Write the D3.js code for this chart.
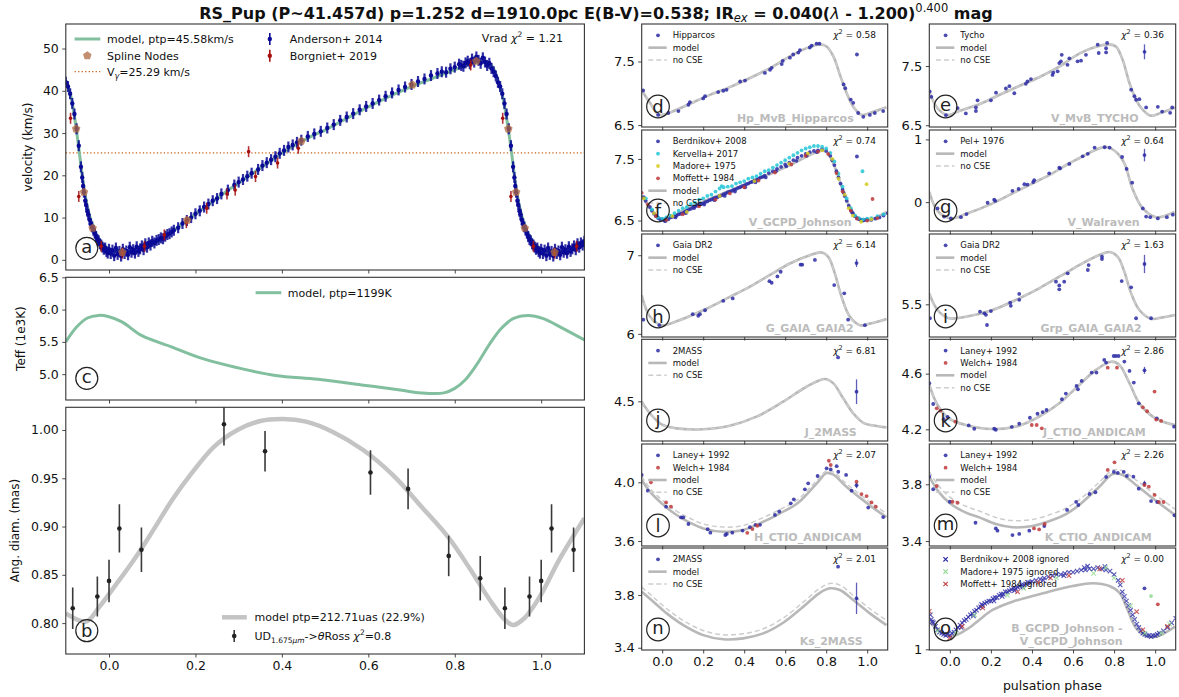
<!DOCTYPE html>
<html><head><meta charset="utf-8">
<script src="https://cdn.jsdelivr.net/npm/d3@7"></script>
<style>body{margin:0;background:#fff} svg text{font-family:"DejaVu Sans",sans-serif}</style>
</head><body><script>
// ---------------- DATA ----------------
const phaseTicks = [0, 0.2, 0.4, 0.6, 0.8, 1.0];
const vGamma = 25.29;
const velModel = [[-0.10,42.5],[-0.09,39.5],[-0.08,34.0],[-0.07,26.5],[-0.06,18.5],[-0.05,12.5],[-0.04,8.8],[-0.03,6.2],[-0.02,4.5],[-0.01,3.3],[0.00,2.5],[0.02,1.9],[0.04,1.8],[0.06,2.1],[0.08,2.7],[0.10,3.6],[0.12,4.8],[0.14,6.2],[0.16,7.7],[0.18,9.3],[0.20,10.8],[0.22,12.3],[0.24,13.8],[0.26,15.3],[0.28,16.8],[0.30,18.2],[0.32,19.6],[0.34,21.0],[0.36,22.4],[0.38,23.8],[0.40,25.2],[0.42,26.5],[0.44,27.7],[0.46,28.8],[0.48,29.8],[0.50,30.7],[0.52,31.8],[0.54,32.9],[0.56,34.0],[0.58,35.1],[0.60,36.2],[0.62,37.2],[0.64,38.2],[0.66,39.2],[0.68,40.1],[0.70,41.0],[0.72,41.8],[0.74,42.6],[0.76,43.4],[0.78,44.2],[0.80,45.0],[0.82,45.8],[0.84,46.5],[0.86,47.0],[0.87,47.0],[0.88,46.5],[0.89,45.2],[0.90,42.5],[0.91,39.0],[0.92,33.5],[0.93,26.5],[0.94,18.5],[0.95,12.5],[0.96,8.8],[0.97,6.2],[0.98,4.5],[0.99,3.3],[1.00,2.5],[1.02,1.9],[1.04,1.8],[1.06,2.1],[1.08,2.7],[1.10,3.6]];
const anderson = [[0.000,2.5],[0.004,1.5],[0.008,2.3],[0.012,1.0],[0.016,2.8],[0.020,1.3],[0.024,2.0],[0.028,0.9],[0.032,2.5],[0.036,1.5],[0.040,2.1],[0.044,1.2],[0.048,3.0],[0.052,1.8],[0.056,2.4],[0.060,1.6],[0.064,3.1],[0.068,2.0],[0.072,2.6],[0.076,3.3],[0.080,2.4],[0.084,3.8],[0.088,3.0],[0.092,4.0],[0.096,3.5],[0.100,4.4],[0.105,4.0],[0.110,4.6],[0.115,4.8],[0.120,5.2],[0.125,5.0],[0.130,5.6],[0.135,6.0],[0.140,6.2],[0.145,6.6],[0.150,7.0],[0.160,7.6],[0.170,8.6],[0.180,9.3],[0.190,10.0],[0.200,10.9],[0.210,11.6],[0.220,12.5],[0.230,13.2],[0.240,14.0],[0.250,14.5],[0.260,15.6],[0.275,16.5],[0.290,17.7],[0.300,18.4],[0.310,19.0],[0.320,19.8],[0.330,20.5],[0.345,21.4],[0.355,22.3],[0.365,23.0],[0.375,23.7],[0.385,24.4],[0.395,25.2],[0.405,25.9],[0.415,26.7],[0.425,27.2],[0.435,27.8],[0.445,28.3],[0.460,29.2],[0.475,29.8],[0.490,30.4],[0.505,31.2],[0.520,32.0],[0.535,33.0],[0.550,33.8],[0.565,34.6],[0.580,35.5],[0.595,36.3],[0.610,37.0],[0.625,37.8],[0.640,38.7],[0.655,39.5],[0.670,40.2],[0.685,40.9],[0.700,41.5],[0.715,42.2],[0.730,42.8],[0.745,43.6],[0.760,44.1],[0.770,44.5],[0.780,44.4],[0.790,45.2],[0.800,45.6],[0.810,46.3],[0.815,46.0],[0.820,45.8],[0.825,46.6],[0.830,47.0],[0.835,46.4],[0.840,47.5],[0.845,46.8],[0.850,48.0],[0.855,47.2],[0.860,46.5],[0.865,47.8],[0.870,46.8],[0.875,46.0],[0.880,46.5],[0.885,45.3],[0.890,44.5],[0.895,43.5],[0.900,42.0],[0.905,41.0],[0.910,39.3],[0.915,37.0],[0.920,34.5],[0.925,31.0],[0.930,27.0],[0.935,22.0],[0.938,19.5],[0.940,17.5],[0.942,16.0],[0.945,14.0],[0.947,13.0],[0.950,11.5],[0.952,10.8],[0.955,9.5],[0.958,8.5],[0.961,7.8],[0.964,7.0],[0.967,6.3],[0.970,5.5],[0.973,4.8],[0.976,4.5],[0.979,3.8],[0.982,3.5],[0.985,3.0],[0.988,2.5],[0.991,2.8],[0.994,2.0],[0.997,1.6]];
const borgniet = [[0.031,1.6],[0.082,3.2],[0.128,5.9],[0.179,8.8],[0.226,12.2],[0.273,15.6],[0.292,16.5],[0.323,25.6],[0.339,19.7],[0.390,22.9],[0.438,26.4],[0.837,46.1],[0.911,33.5],[0.930,15.0],[0.982,3.2]];
const splineNodes = [[0.031,1.8],[0.181,9.4],[0.445,28.1],[0.702,41.4],[0.850,47.0],[0.924,31.0],[0.942,16.0],[0.962,7.5]];

const teffModel = [[-0.10,5.50],[-0.075,5.73],[-0.05,5.87],[-0.025,5.91],[0.0,5.89],[0.03,5.81],[0.075,5.60],[0.146,5.42],[0.217,5.24],[0.297,5.10],[0.385,4.98],[0.483,4.92],[0.589,4.83],[0.678,4.75],[0.722,4.71],[0.775,4.71],[0.80,4.78],[0.824,4.91],[0.85,5.14],[0.881,5.47],[0.908,5.71],[0.935,5.86],[0.97,5.91],[1.005,5.86],[1.05,5.71],[1.10,5.53]];

const diamModel = [[-0.10,0.810],[-0.053,0.8016],[-0.022,0.817],[0.013,0.838],[0.057,0.865],[0.102,0.896],[0.146,0.9275],[0.19,0.9545],[0.244,0.983],[0.297,1.0],[0.35,1.0093],[0.403,1.0114],[0.456,1.0086],[0.518,0.998],[0.589,0.979],[0.66,0.952],[0.722,0.921],[0.784,0.8895],[0.837,0.855],[0.881,0.824],[0.917,0.803],[0.935,0.798],[0.961,0.805],[0.997,0.8275],[1.041,0.865],[1.10,0.9086]];
const diamData = [[0.000,0.8437,0.022],[0.024,0.898,0.025],[0.075,0.876,0.023],[0.266,1.006,0.022],[0.361,0.978,0.021],[0.605,0.956,0.023],[0.692,0.939,0.021],[0.786,0.8696,0.021],[0.859,0.8465,0.023],[0.916,0.8154,0.0216],[0.973,0.8275,0.0207]];

// right-hand photometric panels
const modelD = [[-0.10,7.05],[-0.06,6.85],[-0.02,6.67],[0.00,6.66],[0.04,6.70],[0.135,6.835],[0.233,6.976],[0.33,7.097],[0.428,7.24],[0.526,7.396],[0.623,7.58],[0.704,7.71],[0.77,7.77],[0.802,7.736],[0.835,7.58],[0.867,7.29],[0.90,7.00],[0.932,6.79],[0.973,6.66],[1.013,6.69],[1.094,6.78]];
const hipparcos = [[-0.093,7.044],[-0.02,6.66],[0.03,6.69],[0.079,6.72],[0.128,6.82],[0.135,6.86],[0.20,6.92],[0.209,6.955],[0.273,7.02],[0.298,7.04],[0.314,7.055],[0.38,7.186],[0.404,7.20],[0.501,7.32],[0.526,7.37],[0.534,7.40],[0.583,7.46],[0.588,7.51],[0.623,7.56],[0.639,7.61],[0.664,7.64],[0.672,7.68],[0.72,7.72],[0.729,7.75],[0.753,7.78],[0.767,7.78],[0.885,7.14],[0.893,7.08],[0.92,6.90],[0.932,6.85],[0.956,6.69],[0.981,6.63],[1.013,6.66],[1.037,6.69],[1.078,6.72],[0.95,7.61]];

const modelE = [[-0.10,7.067],[-0.06,6.787],[-0.011,6.674],[0.045,6.74],[0.143,6.854],[0.24,7.01],[0.338,7.163],[0.435,7.31],[0.533,7.49],[0.63,7.71],[0.712,7.826],[0.777,7.866],[0.81,7.826],[0.842,7.60],[0.875,7.21],[0.907,6.93],[0.94,6.76],[0.98,6.66],[1.021,6.70],[1.097,6.80]];
const tycho = [[-0.098,7.07],[-0.09,6.98],[-0.019,6.67],[0.038,6.79],[0.078,6.70],[0.127,6.80],[0.127,6.74],[0.135,6.92],[0.20,6.92],[0.225,7.05],[0.273,7.12],[0.29,7.16],[0.314,7.04],[0.37,7.20],[0.378,7.24],[0.395,7.28],[0.50,7.35],[0.504,7.39],[0.525,7.41],[0.533,7.55],[0.541,7.58],[0.545,7.69],[0.573,7.52],[0.582,7.63],[0.622,7.58],[0.639,7.59],[0.663,7.69],[0.72,7.86],[0.725,7.72],[0.761,7.80],[0.761,7.73],[0.766,7.89],[0.883,7.10],[0.899,6.99],[0.907,6.93],[0.923,6.94],[0.956,6.80],[1.013,6.81],[1.034,6.73],[1.083,6.80],[1.073,6.71],[0.948,7.74,0.126]];

const modelF = [[-0.10,6.90],[-0.06,6.70],[-0.03,6.58],[0.0,6.52],[0.05,6.57],[0.135,6.72],[0.298,6.94],[0.46,7.16],[0.623,7.40],[0.70,7.53],[0.77,7.63],[0.80,7.62],[0.842,7.37],[0.867,7.13],[0.90,6.83],[0.932,6.61],[0.965,6.53],[1.013,6.51],[1.094,6.64]];
const berdV = [[-0.09,6.88],[-0.08,6.82],[-0.06,6.72],[-0.05,6.66],[-0.04,6.61],[-0.03,6.57],[-0.02,6.54],[-0.01,6.52],[0.0,6.52],[0.01,6.50],[0.02,6.53],[0.03,6.52],[0.04,6.55],[0.05,6.56],[0.06,6.57],[0.07,6.58],[0.08,6.60],[0.09,6.61],[0.10,6.62],[0.11,6.64],[0.12,6.66],[0.13,6.68],[0.14,6.69],[0.15,6.72],[0.16,6.73],[0.17,6.74],[0.18,6.76],[0.19,6.77],[0.20,6.78],[0.21,6.80],[0.22,6.81],[0.23,6.83],[0.24,6.84],[0.25,6.86],[0.26,6.87],[0.27,6.88],[0.28,6.90],[0.29,6.91],[0.30,6.93],[0.31,6.94],[0.32,6.96],[0.33,6.97],[0.34,6.98],[0.35,7.00],[0.36,7.01],[0.37,7.03],[0.38,7.04],[0.39,7.06],[0.40,7.07],[0.41,7.09],[0.42,7.10],[0.43,7.12],[0.44,7.13],[0.45,7.15],[0.46,7.16],[0.47,7.18],[0.48,7.20],[0.49,7.21],[0.50,7.23],[0.52,7.27],[0.54,7.30],[0.56,7.34],[0.58,7.37],[0.60,7.41],[0.62,7.44],[0.64,7.48],[0.66,7.52],[0.68,7.55],[0.70,7.58],[0.72,7.61],[0.74,7.63],[0.76,7.64],[0.78,7.66],[0.80,7.63],[0.82,7.55],[0.83,7.48],[0.84,7.40],[0.85,7.30],[0.86,7.20],[0.87,7.10],[0.88,7.00],[0.89,6.90],[0.90,6.82],[0.91,6.74],[0.92,6.67],[0.93,6.62],[0.94,6.57],[0.95,6.54],[0.96,6.52],[0.97,6.51],[0.98,6.50],[0.99,6.51],[1.00,6.52],[1.02,6.51],[1.04,6.53],[1.06,6.55],[1.08,6.58],[1.10,6.62],[0.155,6.70],[0.205,6.76],[0.255,6.83],[0.305,6.90],[0.355,6.97],[0.405,7.04],[0.455,7.12],[0.505,7.20],[0.555,7.30],[0.605,7.38],[0.655,7.47],[0.705,7.55],[0.755,7.61],[0.115,6.62],[0.065,6.55],[0.015,6.49],[0.925,6.64],[0.885,6.95],[0.95,7.54]];
const kervella = [[-0.08,6.86],[-0.05,6.68],[-0.02,6.55],[0.0,6.53],[0.02,6.55],[0.04,6.58],[0.06,6.62],[0.08,6.66],[0.10,6.70],[0.12,6.72],[0.14,6.77],[0.16,6.79],[0.18,6.84],[0.20,6.86],[0.22,6.90],[0.24,6.92],[0.26,6.97],[0.28,7.02],[0.29,7.06],[0.30,7.04],[0.32,7.05],[0.34,7.06],[0.36,7.10],[0.38,7.12],[0.40,7.14],[0.42,7.18],[0.44,7.20],[0.46,7.22],[0.48,7.26],[0.50,7.30],[0.52,7.32],[0.54,7.36],[0.56,7.40],[0.58,7.44],[0.60,7.48],[0.62,7.52],[0.64,7.56],[0.66,7.60],[0.68,7.64],[0.70,7.67],[0.72,7.69],[0.74,7.71],[0.76,7.71],[0.78,7.70],[0.80,7.67],[0.82,7.60],[0.84,7.46],[0.86,7.26],[0.88,7.05],[0.90,6.86],[0.92,6.70],[0.94,6.58],[0.96,6.54],[0.98,6.52],[1.00,6.53],[1.02,6.54],[1.05,6.57],[1.08,6.60],[0.977,7.30]];
const madoreV = [[-0.09,6.86],[-0.04,6.62],[0.05,6.57],[0.12,6.64],[0.28,6.90],[0.45,7.14],[0.62,7.42],[0.71,7.59],[0.78,7.64],[0.83,7.50],[0.86,7.18],[0.89,6.92],[0.91,6.70],[0.93,6.58],[0.97,6.48],[1.02,6.52],[0.997,7.09]];
const moffettV = [[-0.10,6.95],[-0.07,6.76],[-0.03,6.57],[0.02,6.51],[0.10,6.60],[0.18,6.73],[0.26,6.84],[0.33,6.94],[0.40,7.04],[0.47,7.15],[0.55,7.28],[0.63,7.41],[0.70,7.55],[0.76,7.62],[0.81,7.58],[0.85,7.27],[0.88,6.97],[0.92,6.66],[0.95,6.53],[1.00,6.50],[1.05,6.54],[1.026,6.85]];

const modelG = [[-0.10,0.165],[-0.06,-0.14],[0.005,-0.26],[0.078,-0.19],[0.208,-0.02],[0.305,0.14],[0.403,0.30],[0.50,0.46],[0.582,0.62],[0.63,0.70],[0.70,0.82],[0.761,0.88],[0.81,0.80],[0.85,0.62],[0.89,0.21],[0.94,-0.10],[1.005,-0.24],[1.094,-0.155]];
const pel = [[-0.06,-0.10],[-0.028,-0.23],[0.005,-0.26],[0.054,-0.24],[0.081,-0.19],[0.184,-0.01],[0.216,0.04],[0.221,0.02],[0.305,0.18],[0.335,0.21],[0.363,0.287],[0.378,0.28],[0.406,0.32],[0.411,0.35],[0.484,0.46],[0.537,0.537],[0.533,0.55],[0.582,0.61],[0.647,0.73],[0.672,0.77],[0.705,0.87],[0.754,0.875],[0.778,0.87],[0.839,0.72],[0.861,0.53],[0.888,0.31],[0.94,-0.10],[0.956,-0.23],[0.976,-0.24],[1.013,-0.26],[1.057,-0.24],[1.086,-0.20],[0.948,0.75,0.1]];

const modelH = [[-0.10,6.49],[-0.06,6.22],[-0.003,6.11],[0.07,6.16],[0.20,6.30],[0.33,6.47],[0.428,6.60],[0.526,6.75],[0.623,6.895],[0.72,7.0],[0.777,7.035],[0.81,6.98],[0.842,6.77],[0.875,6.47],[0.915,6.22],[0.965,6.11],[1.013,6.13],[1.094,6.19]];
const gaiaG = [[-0.092,6.18],[-0.014,6.11],[0.149,6.25],[0.176,6.23],[0.184,6.25],[0.209,6.30],[0.298,6.42],[0.344,6.45],[0.523,6.67],[0.534,6.65],[0.562,6.73],[0.578,6.79],[0.675,6.88],[0.683,6.88],[0.745,6.94],[0.839,6.62],[0.888,6.515],[0.907,6.18],[0.989,6.11],[0.948,6.90,0.05]];

const modelI = [[-0.10,5.573],[-0.06,5.462],[-0.005,5.407],[0.078,5.417],[0.208,5.462],[0.338,5.54],[0.435,5.607],[0.533,5.684],[0.63,5.762],[0.728,5.829],[0.777,5.849],[0.818,5.817],[0.85,5.717],[0.883,5.573],[0.923,5.462],[0.98,5.404],[1.037,5.413],[1.097,5.429]];
const gaiaRp = [[-0.097,5.407],[0.147,5.451],[0.168,5.44],[0.176,5.43],[0.181,5.362],[0.20,5.455],[0.294,5.511],[0.297,5.49],[0.338,5.569],[0.338,5.53],[0.517,5.651],[0.533,5.626],[0.533,5.60],[0.557,5.651],[0.574,5.707],[0.672,5.729],[0.676,5.762],[0.741,5.802],[0.741,5.818],[0.837,5.655],[0.883,5.613],[0.907,5.407],[0.98,5.407],[0.948,5.769,0.061]];

const modelJ = [[-0.10,4.497],[-0.06,4.408],[-0.003,4.323],[0.07,4.292],[0.20,4.285],[0.33,4.312],[0.46,4.382],[0.59,4.497],[0.704,4.612],[0.794,4.672],[0.835,4.638],[0.883,4.523],[0.932,4.408],[0.981,4.335],[1.046,4.31],[1.094,4.30]];
const twoMassJ = [[0.858,4.838],[0.948,4.574,0.095]];

const modelK = [[-0.10,4.519],[-0.06,4.375],[-0.005,4.279],[0.078,4.231],[0.208,4.202],[0.338,4.226],[0.435,4.291],[0.533,4.387],[0.63,4.519],[0.712,4.627],[0.785,4.686],[0.826,4.663],[0.875,4.531],[0.923,4.387],[0.988,4.291],[1.053,4.247],[1.097,4.231]];
const laneyJ = [[-0.10,4.531],[-0.081,4.382],[-0.03,4.273],[-0.011,4.29],[0.092,4.228],[0.119,4.204],[0.216,4.204],[0.224,4.197],[0.302,4.218],[0.338,4.24],[0.39,4.283],[0.427,4.312],[0.452,4.324],[0.471,4.339],[0.546,4.416],[0.565,4.457],[0.617,4.512],[0.624,4.488],[0.642,4.548],[0.691,4.608],[0.714,4.608],[0.752,4.699],[0.761,4.68],[0.798,4.727],[0.809,4.727],[0.822,4.727],[0.85,4.687],[0.875,4.62],[0.896,4.536],[0.92,4.387],[1.008,4.279],[1.092,4.219],[0.948,4.624,0.025]];
const welchJ = [[-0.064,4.351],[-0.046,4.334],[0.027,4.255],[0.399,4.231],[0.423,4.231],[0.448,4.207],[0.769,4.643],[0.814,4.643],[0.94,4.358],[0.961,4.33],[0.997,4.471],[1.005,4.27],[1.029,4.26]];

const modelL = [[-0.10,4.016],[-0.06,3.936],[-0.003,3.857],[0.07,3.777],[0.135,3.725],[0.20,3.686],[0.298,3.663],[0.395,3.675],[0.493,3.731],[0.575,3.789],[0.66,3.857],[0.754,3.993],[0.802,4.063],[0.835,4.052],[0.90,3.968],[0.981,3.877],[1.046,3.809],[1.094,3.763]];
const noCseL = [[-0.10,4.04],[-0.06,3.96],[-0.003,3.882],[0.07,3.804],[0.135,3.755],[0.20,3.716],[0.298,3.695],[0.395,3.706],[0.493,3.76],[0.575,3.815],[0.66,3.88],[0.754,4.012],[0.802,4.08],[0.835,4.07],[0.90,3.99],[0.981,3.90],[1.046,3.833],[1.094,3.787]];
const laneyH = [[-0.10,4.05],[-0.07,3.943],[0.019,3.834],[0.092,3.761],[0.103,3.761],[0.128,3.716],[0.222,3.68],[0.235,3.657],[0.308,3.641],[0.315,3.648],[0.342,3.657],[0.392,3.671],[0.428,3.694],[0.455,3.71],[0.477,3.71],[0.55,3.778],[0.571,3.801],[0.627,3.857],[0.642,3.884],[0.696,3.952],[0.712,3.993],[0.758,4.043],[0.802,4.095],[0.822,4.088],[0.851,4.11],[0.859,4.072],[0.897,4.05],[0.924,3.943],[1.005,3.828],[1.078,3.763],[0.948,3.98,0.02]];
const welchH = [[-0.055,4.0],[0.019,3.863],[0.043,3.834],[0.415,3.656],[0.44,3.681],[0.464,3.704],[0.813,4.147],[0.822,4.118],[0.948,4.004],[0.972,3.92],[0.997,3.906],[1.021,3.863],[1.042,3.834]];

const modelM = [[-0.10,3.854],[-0.055,3.748],[0.0,3.666],[0.078,3.60],[0.143,3.567],[0.224,3.52],[0.305,3.497],[0.403,3.506],[0.50,3.548],[0.566,3.59],[0.63,3.654],[0.728,3.783],[0.793,3.873],[0.842,3.866],[0.907,3.795],[0.988,3.701],[1.097,3.583]];
const noCseM = [[-0.10,3.89],[-0.055,3.79],[0.0,3.71],[0.078,3.645],[0.143,3.612],[0.224,3.566],[0.305,3.544],[0.403,3.552],[0.50,3.592],[0.566,3.632],[0.63,3.69],[0.728,3.815],[0.793,3.90],[0.842,3.895],[0.907,3.83],[0.988,3.74],[1.097,3.625]];
const laneyK = [[-0.10,3.854],[-0.081,3.765],[0.0,3.677],[0.125,3.529],[0.224,3.489],[0.232,3.473],[0.305,3.442],[0.338,3.45],[0.387,3.473],[0.46,3.506],[0.571,3.619],[0.615,3.676],[0.626,3.654],[0.68,3.732],[0.709,3.744],[0.761,3.852],[0.799,3.887],[0.818,3.880],[0.847,3.887],[0.862,3.859],[0.894,3.854],[0.92,3.769],[0.98,3.682],[1.01,3.675],[1.094,3.581],[0.948,3.805,0.02]];
const welchK = [[-0.064,3.788],[0.013,3.677],[0.037,3.670],[0.41,3.489],[0.435,3.482],[0.462,3.52],[0.769,3.901],[0.802,3.955],[0.948,3.795],[0.969,3.783],[0.997,3.725],[1.018,3.675],[1.041,3.675]];

const modelN = [[-0.10,3.825],[-0.043,3.749],[0.022,3.661],[0.103,3.572],[0.20,3.496],[0.298,3.464],[0.395,3.471],[0.493,3.509],[0.59,3.59],[0.688,3.711],[0.769,3.817],[0.818,3.851],[0.867,3.838],[0.932,3.762],[1.013,3.661],[1.094,3.572]];
const noCseN = [[-0.10,3.860],[-0.043,3.784],[0.022,3.696],[0.103,3.607],[0.20,3.531],[0.298,3.499],[0.395,3.506],[0.493,3.544],[0.59,3.625],[0.688,3.746],[0.769,3.852],[0.818,3.888],[0.867,3.875],[0.932,3.797],[1.013,3.696],[1.094,3.607]];
const twoMassK = [[0.858,4.015],[0.948,3.775,0.119]];

const modelO = [[-0.10,1.24],[-0.075,1.197],[0.005,1.116],[0.078,1.168],[0.143,1.255],[0.208,1.342],[0.305,1.414],[0.403,1.463],[0.50,1.51],[0.598,1.55],[0.695,1.574],[0.777,1.55],[0.826,1.492],[0.866,1.342],[0.907,1.183],[0.956,1.116],[1.005,1.11],[1.097,1.197]];
const berdBV = [[-0.095,1.30],[-0.09,1.26],[-0.085,1.24],[-0.08,1.23],[-0.07,1.20],[-0.06,1.17],[-0.05,1.15],[-0.04,1.14],[-0.03,1.13],[-0.02,1.12],[-0.01,1.13],[0.0,1.12],[0.01,1.14],[0.02,1.15],[0.03,1.17],[0.04,1.19],[0.05,1.21],[0.06,1.23],[0.07,1.25],[0.08,1.26],[0.09,1.28],[0.10,1.30],[0.11,1.31],[0.12,1.33],[0.13,1.34],[0.14,1.36],[0.15,1.37],[0.16,1.38],[0.17,1.40],[0.18,1.41],[0.19,1.42],[0.20,1.42],[0.21,1.44],[0.22,1.45],[0.23,1.45],[0.24,1.47],[0.25,1.48],[0.26,1.48],[0.27,1.50],[0.28,1.50],[0.29,1.51],[0.30,1.52],[0.31,1.53],[0.32,1.53],[0.33,1.54],[0.34,1.55],[0.35,1.56],[0.36,1.56],[0.37,1.57],[0.38,1.58],[0.39,1.58],[0.40,1.59],[0.42,1.60],[0.44,1.61],[0.46,1.62],[0.48,1.63],[0.50,1.64],[0.52,1.65],[0.54,1.65],[0.56,1.66],[0.58,1.67],[0.60,1.67],[0.62,1.68],[0.64,1.69],[0.66,1.69],[0.68,1.70],[0.70,1.70],[0.72,1.71],[0.74,1.70],[0.76,1.69],[0.78,1.68],[0.80,1.65],[0.82,1.60],[0.83,1.56],[0.84,1.50],[0.85,1.46],[0.86,1.42],[0.87,1.38],[0.88,1.34],[0.89,1.30],[0.90,1.26],[0.91,1.22],[0.92,1.19],[0.93,1.16],[0.94,1.14],[0.95,1.13],[0.96,1.12],[0.97,1.12],[0.98,1.11],[0.99,1.12],[1.00,1.12],[1.01,1.13],[1.02,1.14],[1.04,1.16],[1.06,1.19],[1.08,1.23],[1.10,1.27],[0.155,1.39],[0.255,1.46],[0.355,1.54],[0.455,1.60],[0.555,1.64],[0.655,1.71],[0.671,1.724],[0.755,1.72],[0.315,1.51],[0.215,1.42],[0.115,1.29],[0.055,1.19]];
const madoreBV = [[-0.06,1.16],[0.03,1.14],[0.12,1.30],[0.28,1.47],[0.36,1.53],[0.52,1.62],[0.70,1.66],[0.76,1.71],[0.80,1.62],[0.88,1.38],[0.95,1.14],[1.03,1.14],[1.07,1.22]];
const moffettBV = [[-0.10,1.33],[0.0,1.10],[0.06,1.20],[0.16,1.36],[0.33,1.50],[0.43,1.58],[0.49,1.62],[0.58,1.64],[0.73,1.70],[0.84,1.60],[0.91,1.327],[0.94,1.17],[1.06,1.20]];
const outlierBV = [[0.948,1.53,"#2a2aa5"],[0.98,1.463,"#90d890"],[1.013,1.391,"#c03a3a"]];

// ---------------- DRAWING ----------------
const W = 1179, H = 697;
const svg = d3.select("body").append("svg").attr("width", W).attr("height", H).style("display", "block");
svg.append("rect").attr("width", W).attr("height", H).attr("fill", "#fff");
const BLUE = "#2a2aa5", CYAN = "#22c5d6", YELLOW = "#d6cb22", RED = "#c03a3a", LGREEN = "#90d890";
const GREEN = "#82bf9e", NAVY = "#0a0a96", DRED = "#a81010";
let clipN = 0;
function panel(box, xdom, ydom) {
  const x = d3.scaleLinear().domain(xdom).range([box.x0, box.x1]);
  const y = d3.scaleLinear().domain(ydom).range([box.y1, box.y0]);
  const id = "clip" + (clipN++);
  svg.append("clipPath").attr("id", id).append("rect")
    .attr("x", box.x0).attr("y", box.y0).attr("width", box.x1 - box.x0).attr("height", box.y1 - box.y0);
  const g = svg.append("g");
  const plot = g.append("g").attr("clip-path", `url(#${id})`);
  return { x, y, g, plot, box };
}
function lineOf(P) {
  return d3.line().x(d => P.x(d[0])).y(d => P.y(d[1])).curve(d3.curveCatmullRom.alpha(0.5));
}
function frame(P) {
  P.g.append("rect").attr("x", P.box.x0).attr("y", P.box.y0)
    .attr("width", P.box.x1 - P.box.x0).attr("height", P.box.y1 - P.box.y0)
    .attr("fill", "none").attr("stroke", "#333").attr("stroke-width", 1.1);
}
function styleAxis(g, fs) {
  g.attr("font-family", "DejaVu Sans").attr("font-size", fs);
  g.select(".domain").remove();
  g.selectAll("line").attr("stroke", "#333").attr("stroke-width", 0.9);
  g.selectAll("text").attr("fill", "#111");
}
function xAxis(P, labels, fs) {
  const ax = d3.axisBottom(P.x).tickValues(phaseTicks).tickSize(3.5).tickPadding(3.5)
    .tickFormat(labels ? d3.format(".1f") : () => "");
  styleAxis(P.g.append("g").attr("transform", `translate(0,${P.box.y1})`).call(ax), fs);
}
function yAxis(P, ticks, fmt, fs) {
  const ax = d3.axisLeft(P.y).tickValues(ticks).tickSize(3.5).tickPadding(3.5).tickFormat(d3.format(fmt));
  styleAxis(P.g.append("g").attr("transform", `translate(${P.box.x0},0)`).call(ax), fs);
}
function letter(P, ch, dx, dy, r) {
  const cx = P.box.x0 + dx, cy = P.box.y1 - dy, fs = 18;
  P.g.append("circle").attr("cx", cx).attr("cy", cy).attr("r", r)
    .attr("fill", "none").attr("stroke", "#222").attr("stroke-width", 1.2);
  let off = 0.26;
  if ("bdfhkl".includes(ch)) off = 0.37;
  if ("gp".includes(ch)) off = 0.13;
  if (ch === "j") off = 0.25;
  if (ch === "i") off = 0.36;
  P.g.append("text").attr("x", cx).attr("y", cy + off * fs).attr("text-anchor", "middle")
    .attr("font-family", "DejaVu Serif").attr("font-size", fs).attr("fill", "#222").text(ch);
}
function ylabel(x, y, txt) {
  svg.append("text").attr("transform", `translate(${x},${y}) rotate(-90)`).attr("text-anchor", "middle")
    .attr("font-size", 12).attr("fill", "#111").text(txt);
}
const pentagon = { draw(ctx, size) { const r = Math.sqrt(size / 2.378);
  for (let i = 0; i < 5; i++) { const a = -Math.PI / 2 + i * 2 * Math.PI / 5;
    i ? ctx.lineTo(r * Math.cos(a), r * Math.sin(a)) : ctx.moveTo(r * Math.cos(a), r * Math.sin(a)); }
  ctx.closePath(); } };
const shifts = [-1, 0, 1];

// Title
const title = svg.append("text").attr("x", 596).attr("y", 19).attr("text-anchor", "middle")
  .attr("font-weight", "bold").attr("font-size", 16).attr("fill", "#111");
title.append("tspan").text("RS_Pup (P~41.457d) p=1.252 d=1910.0pc E(B-V)=0.538; IR");
title.append("tspan").attr("font-size", 11.5).attr("font-style", "italic").attr("font-weight", "normal").attr("dy", 3).text("ex");
title.append("tspan").attr("dy", -3).text(" = 0.040(");
title.append("tspan").attr("font-style", "italic").attr("font-weight", "normal").text("λ");
title.append("tspan").text(" - 1.200)");
title.append("tspan").attr("font-size", 11.5).attr("font-weight", "normal").attr("dy", -7).text("0.400");
title.append("tspan").attr("dy", 7).text(" mag");

// ---- panel a : velocity ----
const A = panel({ x0: 65.8, x1: 584.4, y0: 24, y1: 270 }, [-0.1, 1.1], [-2.4, 55.8]);
A.plot.append("line").attr("x1", A.box.x0).attr("x2", A.box.x1).attr("y1", A.y(vGamma)).attr("y2", A.y(vGamma))
  .attr("stroke", "#c8641e").attr("stroke-width", 1.3).attr("stroke-dasharray", "1.3,2.2");
A.plot.append("path").datum(velModel).attr("d", lineOf(A)).attr("fill", "none").attr("stroke", GREEN).attr("stroke-width", 3);
function errPts(P, data, color, err, r, sw) {
  shifts.forEach(s => {
    const g = P.plot.append("g");
    g.selectAll("line").data(data).join("line")
      .attr("x1", d => P.x(d[0] + s)).attr("x2", d => P.x(d[0] + s))
      .attr("y1", d => P.y(d[1] - err)).attr("y2", d => P.y(d[1] + err))
      .attr("stroke", color).attr("stroke-width", sw).attr("opacity", 0.85);
    g.selectAll("circle").data(data).join("circle")
      .attr("cx", d => P.x(d[0] + s)).attr("cy", d => P.y(d[1])).attr("r", r).attr("fill", color);
  });
}
errPts(A, anderson, NAVY, 1.3, 2.2, 2.2);
errPts(A, borgniet, DRED, 1.3, 1.8, 1.6);
shifts.forEach(s => {
  A.plot.append("g").selectAll("path").data(splineNodes).join("path")
    .attr("transform", d => `translate(${A.x(d[0] + s)},${A.y(d[1])})`)
    .attr("d", d3.symbol(pentagon, 48)).attr("fill", "#b06a40").attr("opacity", 0.75);
});
frame(A); xAxis(A, false, 12.5); yAxis(A, [0, 10, 20, 30, 40, 50], "d", 12.5);
ylabel(32.3, 147, "velocity (km/s)");
// legend a
{
  const g = A.g.append("g").attr("font-size", 11).attr("fill", "#111");
  g.append("line").attr("x1", 74.6).attr("x2", 100.3).attr("y1", 39).attr("y2", 39).attr("stroke", GREEN).attr("stroke-width", 3);
  g.append("text").attr("x", 107).attr("y", 43).text("model, ptp=45.58km/s");
  g.append("path").attr("transform", "translate(87.3,55.7)").attr("d", d3.symbol(pentagon, 48)).attr("fill", "#b06a40").attr("opacity", 0.75);
  g.append("text").attr("x", 107).attr("y", 59.7).text("Spline Nodes");
  g.append("line").attr("x1", 74.6).attr("x2", 100.3).attr("y1", 71.7).attr("y2", 71.7).attr("stroke", "#c8641e").attr("stroke-width", 1.3).attr("stroke-dasharray", "1.3,2.2");
  const t = g.append("text").attr("x", 107).attr("y", 75.7);
  t.append("tspan").text("V"); t.append("tspan").attr("font-size", 8).attr("font-style", "italic").attr("dy", 3).text("γ");
  t.append("tspan").attr("dy", -3).text("=25.29 km/s");
  [[39, NAVY, "Anderson+ 2014"], [55.7, DRED, "Borgniet+ 2019"]].forEach(([yy, c, lab]) => {
    g.append("line").attr("x1", 269.8).attr("x2", 269.8).attr("y1", yy - 6).attr("y2", yy + 6).attr("stroke", c).attr("stroke-width", 1.6);
    g.append("circle").attr("cx", 269.8).attr("cy", yy).attr("r", 2.2).attr("fill", c);
    g.append("text").attr("x", 289.7).attr("y", yy + 4).text(lab);
  });
  const c2 = g.append("text").attr("x", 563).attr("y", 41.5).attr("text-anchor", "end");
  c2.append("tspan").text("Vrad "); c2.append("tspan").attr("font-style", "italic").text("χ");
  c2.append("tspan").attr("font-size", 7.5).attr("dy", -5).text("2"); c2.append("tspan").attr("dy", 5).text(" = 1.21");
}
letter(A, "a", 21, 21.7, 11);

// ---- panel c : Teff ----
const C = panel({ x0: 65.8, x1: 584.4, y0: 277.3, y1: 400 }, [-0.1, 1.1], [4.6, 6.5]);
C.plot.append("path").datum(teffModel).attr("d", lineOf(C)).attr("fill", "none").attr("stroke", GREEN).attr("stroke-width", 3);
frame(C); xAxis(C, false, 12.5); yAxis(C, [5.0, 5.5, 6.0, 6.5], ".1f", 12.5);
ylabel(24.7, 338.6, "Teff (1e3K)");
C.g.append("line").attr("x1", 255.6).attr("x2", 281.3).attr("y1", 292.7).attr("y2", 292.7).attr("stroke", GREEN).attr("stroke-width", 3);
C.g.append("text").attr("x", 287.8).attr("y", 296.7).attr("font-size", 11).attr("fill", "#111").text("model, ptp=1199K");
letter(C, "c", 21, 21.7, 11);

// ---- panel b : angular diameter ----
const B = panel({ x0: 65.8, x1: 584.4, y0: 407.3, y1: 654 }, [-0.1, 1.1], [0.768, 1.0235]);
B.plot.append("path").datum(diamModel).attr("d", lineOf(B)).attr("fill", "none").attr("stroke", "#c4c4c4").attr("stroke-width", 4.5);
shifts.forEach(s => {
  const g = B.plot.append("g");
  g.selectAll("line").data(diamData).join("line")
    .attr("x1", d => B.x(d[0] + s)).attr("x2", d => B.x(d[0] + s))
    .attr("y1", d => B.y(d[1] - d[2])).attr("y2", d => B.y(d[1] + d[2]))
    .attr("stroke", "#3a3a3a").attr("stroke-width", 1.6);
  g.selectAll("circle").data(diamData).join("circle")
    .attr("cx", d => B.x(d[0] + s)).attr("cy", d => B.y(d[1])).attr("r", 2.3).attr("fill", "#222");
});
frame(B); xAxis(B, true, 12.5); yAxis(B, [0.80, 0.85, 0.90, 0.95, 1.00], ".2f", 12.5);
ylabel(19.3, 530.6, "Ang. diam. (mas)");
{
  const g = B.g.append("g").attr("font-size", 11).attr("fill", "#111");
  g.append("line").attr("x1", 222).attr("x2", 246.8).attr("y1", 617.3).attr("y2", 617.3).attr("stroke", "#c4c4c4").attr("stroke-width", 4.5);
  g.append("text").attr("x", 254.5).attr("y", 621.3).text("model ptp=212.71uas (22.9%)");
  g.append("line").attr("x1", 234.2).attr("x2", 234.2).attr("y1", 630).attr("y2", 642).attr("stroke", "#3a3a3a").attr("stroke-width", 1.6);
  g.append("circle").attr("cx", 234.2).attr("cy", 636).attr("r", 2.3).attr("fill", "#222");
  const t = g.append("text").attr("x", 254.5).attr("y", 640);
  t.append("tspan").text("UD"); t.append("tspan").attr("font-size", 7.5).attr("dy", 2.5).text("1.675");
  t.append("tspan").attr("font-size", 7.5).attr("font-style", "italic").text("μm");
  t.append("tspan").attr("dy", -2.5).text("->"); t.append("tspan").attr("font-style", "italic").text("θ");
  t.append("tspan").text("Ross "); t.append("tspan").attr("font-style", "italic").text("χ");
  t.append("tspan").attr("font-size", 7.5).attr("dy", -5).text("2"); t.append("tspan").attr("dy", 5).text("=0.8");
}
letter(B, "b", 21, 23.3, 11);

// ---- right panels ----
const cols = [[641.7, 887.7], [929.3, 1175.7]];
const rows = [[24, 127], [130, 231], [234, 337], [339.3, 441], [444, 546], [548, 650]];
const dot = (name, color, data) => ({ name, color, data, kind: "dot" });
const cross = (name, color, data) => ({ name, color, data, kind: "x" });
const rightPanels = [
  { l: "d", c: 0, r: 0, ylim: [6.47, 8.09], yt: [6.5, 7.5], fmt: ".1f", model: modelD, nocse: modelD, series: [dot("Hipparcos", BLUE, hipparcos)], chi: "0.58", label: ["Hp_MvB_Hipparcos"], lo: 34 },
  { l: "e", c: 1, r: 0, ylim: [6.47, 8.21], yt: [6.5, 7.5], fmt: ".1f", model: modelE, nocse: modelE, series: [dot("Tycho", BLUE, tycho)], chi: "0.36", label: ["V_MvB_TYCHO"], lo: 37 },
  { l: "f", c: 0, r: 1, ylim: [6.33, 7.97], yt: [6.5, 7.5], fmt: ".1f", model: modelF, nocse: modelF, series: [dot("Berdnikov+ 2008", BLUE, berdV), dot("Kervella+ 2017", CYAN, kervella), dot("Madore+ 1975", YELLOW, madoreV), dot("Moffett+ 1984", RED, moffettV)], chi: "0.74", label: ["V_GCPD_Johnson"], lo: 36 },
  { l: "g", c: 1, r: 1, ylim: [-0.46, 1.15], yt: [0, 1], fmt: "d", model: modelG, nocse: modelG, series: [dot("Pel+ 1976", BLUE, pel)], chi: "0.64", label: ["V_Walraven"], lo: 36 },
  { l: "h", c: 0, r: 2, ylim: [5.96, 7.27], yt: [6, 7], fmt: "d", model: modelH, nocse: modelH, series: [dot("Gaia DR2", BLUE, gaiaG)], chi: "6.14", label: ["G_GAIA_GAIA2"], lo: 34 },
  { l: "i", c: 1, r: 2, ylim: [5.282, 5.969], yt: [5.5], fmt: ".1f", model: modelI, nocse: modelI, series: [dot("Gaia DR2", BLUE, gaiaRp)], chi: "1.63", label: ["Grp_GAIA_GAIA2"], lo: 34 },
  { l: "j", c: 0, r: 3, ylim: [4.195, 4.977], yt: [4.5], fmt: ".1f", model: modelJ, nocse: modelJ, series: [dot("2MASS", BLUE, twoMassJ)], chi: "6.81", label: ["J_2MASS"], lo: 31 },
  { l: "k", c: 1, r: 3, ylim: [4.116, 4.847], yt: [4.2, 4.6], fmt: ".1f", model: modelK, nocse: modelK, series: [dot("Laney+ 1992", BLUE, laneyJ), dot("Welch+ 1984", RED, welchJ)], chi: "2.86", label: ["J_CTIO_ANDICAM"], lo: 30 },
  { l: "l", c: 0, r: 4, ylim: [3.566, 4.261], yt: [3.6, 4.0], fmt: ".1f", model: modelL, nocse: noCseL, series: [dot("Laney+ 1992", BLUE, laneyH), dot("Welch+ 1984", RED, welchH)], chi: "2.07", label: ["H_CTIO_ANDICAM"], lo: 26 },
  { l: "m", c: 1, r: 4, ylim: [3.365, 4.084], yt: [3.4, 3.8], fmt: ".1f", model: modelM, nocse: noCseM, series: [dot("Laney+ 1992", BLUE, laneyK), dot("Welch+ 1984", RED, welchK)], chi: "2.26", label: ["K_CTIO_ANDICAM"], lo: 24 },
  { l: "n", c: 0, r: 5, ylim: [3.383, 4.157], yt: [3.4, 3.8], fmt: ".1f", model: modelN, nocse: noCseN, series: [dot("2MASS", BLUE, twoMassK)], chi: "2.01", label: ["Ks_2MASS"], lo: 25 },
  { l: "o", c: 1, r: 5, ylim: [0.994, 1.881], yt: [1], fmt: "d", model: modelO, nocse: null, series: [cross("Berdnikov+ 2008 ignored", BLUE, berdBV), cross("Madore+ 1975 ignored", LGREEN, madoreBV), cross("Moffett+ 1984 ignored", RED, moffettBV)], chi: "0.00", label: ["B_GCPD_Johnson -", "V_GCPD_Johnson"], lo: 53, noModelLegend: true }
];
const crossPath = a => `M${-a},${-a}L${a},${a}M${-a},${a}L${a},${-a}`;
rightPanels.forEach(cfg => {
  const [x0, x1] = cols[cfg.c], [y0, y1] = rows[cfg.r];
  const P = panel({ x0, x1, y0, y1 }, [-0.1, 1.1], cfg.ylim);
  // watermark label
  const nL = cfg.label.length;
  cfg.label.forEach((s, i) => {
    P.g.append("text").attr("x", x1 - cfg.lo).attr("y", y1 - 5 - (nL - 1 - i) * 12.6).attr("text-anchor", "end")
      .attr("font-size", 11).attr("font-weight", "bold").attr("fill", "#bcbcbc").text(s);
  });
  P.plot.append("path").datum(cfg.model).attr("d", lineOf(P)).attr("fill", "none").attr("stroke", "#b8b8b8").attr("stroke-width", 2.6);
  if (cfg.nocse) P.plot.append("path").datum(cfg.nocse).attr("d", lineOf(P)).attr("fill", "none")
    .attr("stroke", "#cdcdcd").attr("stroke-width", 1.5).attr("stroke-dasharray", "5,3");
  cfg.series.forEach(s => {
    const g = P.plot.append("g");
    if (s.kind === "dot") {
      const withErr = s.data.filter(d => d.length > 2);
      g.selectAll("line").data(withErr).join("line")
        .attr("x1", d => P.x(d[0])).attr("x2", d => P.x(d[0])).attr("y1", d => P.y(d[1] - d[2])).attr("y2", d => P.y(d[1] + d[2]))
        .attr("stroke", s.color).attr("stroke-width", 1.3).attr("opacity", 0.75);
      g.selectAll("circle").data(s.data).join("circle")
        .attr("cx", d => P.x(d[0])).attr("cy", d => P.y(d[1])).attr("r", 1.9).attr("fill", s.color).attr("opacity", 0.85);
    } else {
      g.selectAll("path").data(s.data).join("path")
        .attr("transform", d => `translate(${P.x(d[0])},${P.y(d[1])})`).attr("d", crossPath(2.2))
        .attr("stroke", s.color).attr("stroke-width", 1.1).attr("fill", "none").attr("opacity", 0.8);
    }
  });
  if (cfg.l === "o") {
    P.plot.append("g").selectAll("circle").data(outlierBV).join("circle")
      .attr("cx", d => P.x(d[0])).attr("cy", d => P.y(d[1])).attr("r", 1.9).attr("fill", d => d[2]).attr("opacity", 0.85);
  }
  frame(P); xAxis(P, cfg.r === 5, 13); yAxis(P, cfg.yt, cfg.fmt, 13);
  // legend
  const lg = P.g.append("g").attr("font-size", 8.5).attr("fill", "#111");
  const entries = cfg.series.map(s => ({ t: s.name, s }));
  if (!cfg.noModelLegend) { entries.push({ t: "model", m: "solid" }); entries.push({ t: "no CSE", m: "dash" }); }
  entries.forEach((e, i) => {
    const yy = y0 + 11.3 + i * 12.35;
    if (e.s) {
      if (e.s.kind === "dot") lg.append("circle").attr("cx", x0 + 16.3).attr("cy", yy).attr("r", 1.9).attr("fill", e.s.color).attr("opacity", 0.85);
      else lg.append("path").attr("transform", `translate(${x0 + 16.3},${yy})`).attr("d", crossPath(2.2)).attr("stroke", e.s.color).attr("stroke-width", 1.1).attr("fill", "none");
    } else if (e.m === "solid") {
      lg.append("line").attr("x1", x0 + 6.6).attr("x2", x0 + 25).attr("y1", yy).attr("y2", yy).attr("stroke", "#b8b8b8").attr("stroke-width", 2.6);
    } else {
      lg.append("line").attr("x1", x0 + 6.6).attr("x2", x0 + 25).attr("y1", yy).attr("y2", yy).attr("stroke", "#cdcdcd").attr("stroke-width", 1.5).attr("stroke-dasharray", "5,3");
    }
    lg.append("text").attr("x", x0 + 31).attr("y", yy + 3).text(e.t);
  });
  const ct = lg.append("text").attr("x", x1 - 11.7).attr("y", y0 + 14.3).attr("text-anchor", "end").attr("font-size", 9);
  ct.append("tspan").attr("font-style", "italic").text("χ");
  ct.append("tspan").attr("font-size", 6.5).attr("dy", -4).text("2");
  ct.append("tspan").attr("dy", 4).text(" = " + cfg.chi);
  letter(P, cfg.l, 16.3, 20.5, 11.3);
});
svg.append("text").attr("x", 1052.5).attr("y", 689.5).attr("text-anchor", "middle").attr("font-size", 12.5).attr("fill", "#111").text("pulsation phase");
</script></body></html>
